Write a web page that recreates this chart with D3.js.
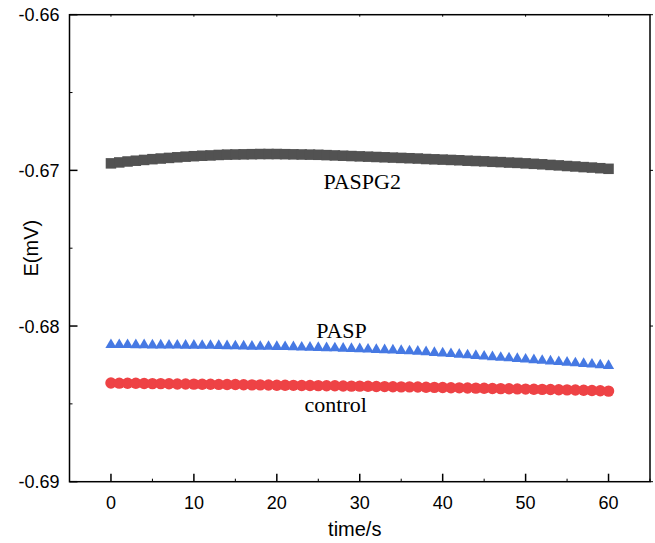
<!DOCTYPE html>
<html>
<head>
<meta charset="utf-8">
<script src="https://cdn.jsdelivr.net/npm/d3@7"></script>
<style>
  html, body { margin: 0; padding: 0; background: #fff; }
  svg { display: block; }
  .tick-lbl { font-family: Arial, "Liberation Sans", sans-serif; font-size: 18px; fill: #000; }
  .ax-title { font-family: Arial, "Liberation Sans", sans-serif; font-size: 20px; fill: #000; }
  .s-lbl { font-family: "Times New Roman", "Liberation Serif", serif; font-size: 22px; fill: #000; }
</style>
</head>
<body>
<div id="chart"></div>
<script>
// time axis (s)
const TIMES = [0,1,2,3,4,5,6,7,8,9,10,11,12,13,14,15,16,17,18,19,20,21,22,23,24,25,26,27,28,29,30,
  31,32,33,34,35,36,37,38,39,40,41,42,43,44,45,46,47,48,49,50,51,52,53,54,55,56,57,58,59,60];

const PASPG2 = [-0.66955,-0.66949,-0.66943,-0.66938,-0.66933,-0.66928,-0.66924,-0.66920,-0.66916,-0.66912,
  -0.66909,-0.66906,-0.66904,-0.66901,-0.66899,-0.66898,-0.66897,-0.66896,-0.66895,-0.66895,
  -0.66895,-0.66896,-0.66897,-0.66898,-0.66899,-0.66900,-0.66902,-0.66904,-0.66906,-0.66908,
  -0.66910,-0.66912,-0.66914,-0.66916,-0.66918,-0.66920,-0.66922,-0.66924,-0.66927,-0.66929,
  -0.66931,-0.66933,-0.66935,-0.66938,-0.66940,-0.66942,-0.66945,-0.66947,-0.66950,-0.66952,
  -0.66955,-0.66958,-0.66961,-0.66965,-0.66968,-0.66972,-0.66975,-0.66979,-0.66982,-0.66986,-0.66990];

const PASP = [-0.68121,-0.68121,-0.68121,-0.68122,-0.68122,-0.68123,-0.68123,-0.68124,-0.68124,-0.68125,
  -0.68125,-0.68126,-0.68126,-0.68127,-0.68128,-0.68129,-0.68130,-0.68131,-0.68132,-0.68132,
  -0.68133,-0.68134,-0.68135,-0.68137,-0.68138,-0.68139,-0.68141,-0.68142,-0.68144,-0.68146,
  -0.68148,-0.68150,-0.68152,-0.68154,-0.68156,-0.68159,-0.68161,-0.68164,-0.68167,-0.68171,
  -0.68175,-0.68179,-0.68183,-0.68187,-0.68191,-0.68195,-0.68199,-0.68203,-0.68206,-0.68210,
  -0.68214,-0.68218,-0.68222,-0.68226,-0.68230,-0.68234,-0.68238,-0.68242,-0.68246,-0.68251,-0.68255];

const CONTROL = [-0.68366,-0.68367,-0.68368,-0.68368,-0.68369,-0.68370,-0.68370,-0.68371,-0.68372,-0.68372,
  -0.68373,-0.68374,-0.68374,-0.68375,-0.68376,-0.68376,-0.68377,-0.68378,-0.68378,-0.68379,
  -0.68380,-0.68380,-0.68381,-0.68382,-0.68382,-0.68383,-0.68384,-0.68384,-0.68385,-0.68386,
  -0.68386,-0.68387,-0.68388,-0.68389,-0.68390,-0.68391,-0.68391,-0.68392,-0.68393,-0.68394,
  -0.68395,-0.68396,-0.68397,-0.68398,-0.68399,-0.68400,-0.68401,-0.68402,-0.68403,-0.68404,
  -0.68405,-0.68406,-0.68407,-0.68408,-0.68409,-0.68410,-0.68411,-0.68413,-0.68414,-0.68416,-0.68418];

const X_TICKS = [0, 10, 20, 30, 40, 50, 60];
const X_MINOR = [-5, 5, 15, 25, 35, 45, 55, 65];
const Y_TICKS = [-0.69, -0.68, -0.67, -0.66];
const Y_MINOR = [-0.685, -0.675, -0.665];

const W = 655, H = 543;
const M = { top: 14.7, right: 5, bottom: 61.3, left: 69.5 };

const svg = d3.select('#chart').append('svg').attr('width', W).attr('height', H);

const x = d3.scaleLinear().domain([-5, 65]).range([M.left, W - M.right]);
const y = d3.scaleLinear().domain([-0.69, -0.66]).range([H - M.bottom, M.top]);

const x0 = x.range()[0], x1 = x.range()[1];
const y0 = y.range()[0], y1 = y.range()[1];

// series
const g = svg.append('g');

const sq = 10.5;
g.selectAll('rect.pg2').data(TIMES).enter().append('rect').attr('class', 'pg2')
  .attr('x', (d) => x(d) - sq / 2)
  .attr('y', (d, i) => y(PASPG2[i]) - sq / 2)
  .attr('width', sq).attr('height', sq)
  .attr('fill', '#525252');

const tri = d3.symbol().type(d3.symbolTriangle).size(54);
g.selectAll('path.pasp').data(TIMES).enter().append('path').attr('class', 'pasp')
  .attr('transform', (d, i) => `translate(${x(d)},${y(PASP[i])})`)
  .attr('d', tri)
  .attr('fill', '#4679e3');

g.selectAll('circle.ctl').data(TIMES).enter().append('circle').attr('class', 'ctl')
  .attr('cx', (d) => x(d))
  .attr('cy', (d, i) => y(CONTROL[i]))
  .attr('r', 5.7)
  .attr('fill', '#ee4245');

// frame + ticks
const ax = svg.append('g').attr('stroke', '#000').attr('fill', 'none');
ax.append('rect').attr('x', x0).attr('y', y1).attr('width', x1 - x0).attr('height', y0 - y1)
  .attr('stroke-width', 1.5);

ax.selectAll('line.xt').data(X_TICKS).enter().append('line')
  .attr('x1', (d) => x(d)).attr('x2', (d) => x(d))
  .attr('y1', y0).attr('y2', y0 - 8).attr('stroke-width', 1.5);
ax.selectAll('line.xm').data(X_MINOR).enter().append('line')
  .attr('x1', (d) => x(d)).attr('x2', (d) => x(d))
  .attr('y1', y0).attr('y2', y0 - 3).attr('stroke-width', 1);
ax.selectAll('line.xtt').data(X_TICKS).enter().append('line')
  .attr('x1', (d) => x(d)).attr('x2', (d) => x(d))
  .attr('y1', y1).attr('y2', y1 + 2).attr('stroke-width', 1);

ax.selectAll('line.yt').data(Y_TICKS).enter().append('line')
  .attr('x1', x0).attr('x2', x0 + 8)
  .attr('y1', (d) => y(d)).attr('y2', (d) => y(d)).attr('stroke-width', 1.5);
ax.selectAll('line.ym').data(Y_MINOR).enter().append('line')
  .attr('x1', x0).attr('x2', x0 + 3)
  .attr('y1', (d) => y(d)).attr('y2', (d) => y(d)).attr('stroke-width', 1);
ax.selectAll('line.yr').data(Y_TICKS).enter().append('line')
  .attr('x1', x1).attr('x2', x1 + 3)
  .attr('y1', (d) => y(d)).attr('y2', (d) => y(d)).attr('stroke-width', 1);

// tick labels (plain hyphen minus, as in the original)
const fmtY = (d) => d.toFixed(2);
svg.selectAll('text.xl').data(X_TICKS).enter().append('text')
  .attr('class', 'tick-lbl').attr('text-anchor', 'middle')
  .attr('x', (d) => x(d)).attr('y', y0 + 27)
  .text((d) => d);
svg.selectAll('text.yl').data(Y_TICKS).enter().append('text')
  .attr('class', 'tick-lbl').attr('text-anchor', 'end')
  .attr('x', x0 - 10).attr('y', (d) => y(d) + 6.5)
  .text(fmtY);

// axis titles
svg.append('text').attr('class', 'ax-title').attr('text-anchor', 'middle')
  .attr('x', (x0 + x1) / 2 - 5).attr('y', H - 7).text('time/s');
svg.append('text').attr('class', 'ax-title').attr('text-anchor', 'middle')
  .attr('transform', `translate(38,${(y0 + y1) / 2}) rotate(-90)`).text('E(mV)');

// series labels
svg.append('text').attr('class', 's-lbl').attr('text-anchor', 'middle')
  .attr('x', x(30.3)).attr('y', 189).text('PASPG2');
svg.append('text').attr('class', 's-lbl').attr('text-anchor', 'middle')
  .attr('x', x(27.8)).attr('y', 338).text('PASP');
svg.append('text').attr('class', 's-lbl').attr('text-anchor', 'middle')
  .attr('x', x(27.1)).attr('y', 412).text('control');
</script>
</body>
</html>
